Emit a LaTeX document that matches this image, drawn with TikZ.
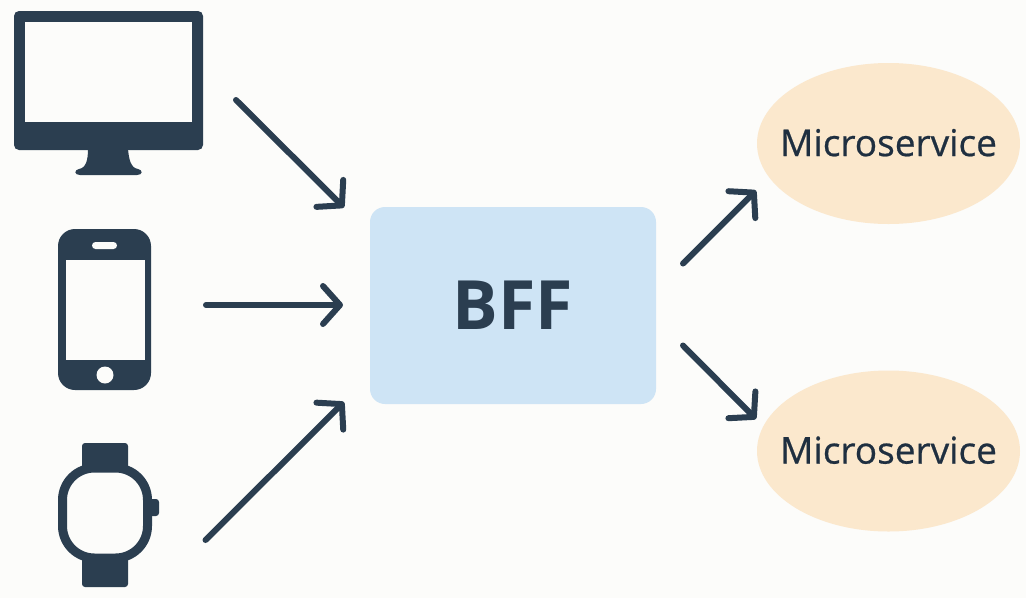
\documentclass[tikz,border=0pt]{standalone}
\usepackage{fontspec}
\setmainfont{Open Sans}
\newfontfamily\servicefont[FakeBold=0.6]{Open Sans}
\usetikzlibrary{arrows.meta, shapes.geometric}

\definecolor{paper}{HTML}{FCFCFA}
\definecolor{navy}{HTML}{2B3E50}
\definecolor{inkdark}{HTML}{1F2F40}
\definecolor{bffblue}{HTML}{CEE4F5}
\definecolor{msorange}{HTML}{FBE8CD}

\tikzset{
  iconpart/.style={rectangle, fill=navy, draw=none, inner sep=0pt, outer sep=0pt},
  iconhole/.style={rectangle, fill=paper, draw=none, inner sep=0pt, outer sep=0pt},
  flow/.style={navy, line width=6pt, line cap=round, line join=round,
    -{Straight Barb[length=17pt, width=38pt, line width=6pt, round]}},
  service/.style={ellipse, fill=msorange, inner sep=0pt, outer sep=0pt,
    minimum width=263pt, minimum height=161pt, text=inkdark,
    font=\servicefont\fontsize{37}{37}\selectfont}
}

\begin{document}
\begin{tikzpicture}[x=1pt, y=-1pt]

  % Canvas
  \fill[paper] (0,0) rectangle (1026,598);
  \useasboundingbox (0,0) rectangle (1026,598);

  % === Desktop monitor
  \fill[navy] (88,149) .. controls (88,160) and (86,168) .. (79,169)
    .. controls (74,170) and (74,175) .. (80,175) -- (137,175)
    .. controls (143,175) and (143,170) .. (138,169)
    .. controls (131,168) and (129,160) .. (128,149) -- cycle;
  \node[iconpart, rounded corners=5pt, minimum width=189pt, minimum height=139pt] (desktop) at (108.5,80.5) {};
  \node[iconhole, minimum width=167pt, minimum height=100pt] (desktopscreen) at (108.5,72) {};

  % === Phone
  \node[iconpart, rounded corners=17pt, minimum width=93pt, minimum height=161pt] (phone) at (104.5,309.5) {};
  \node[iconhole, minimum width=79pt, minimum height=100pt] (phonescreen) at (105.5,310) {};
  \node[iconhole, rounded corners=3.5pt, minimum width=25pt, minimum height=7pt] (phonespeaker) at (104.5,245.5) {};
  \node[iconhole, circle, minimum size=17pt] (phonebutton) at (105,375) {};

  % === Watch
  \node[iconpart, rounded corners=3pt, minimum width=46pt, minimum height=30pt] (watchtop) at (105,458) {};
  \node[iconpart, rounded corners=3pt, minimum width=46pt, minimum height=30pt] (watchbottom) at (105,572) {};
  \node[iconpart, rounded corners=3pt, minimum width=10pt, minimum height=17pt] (watchcrown) at (154,507.5) {};
  \node[rectangle, fill=paper, draw=navy, line width=9pt, rounded corners=32pt, inner sep=0pt, outer sep=0pt,
    minimum width=85pt, minimum height=90pt] (watch) at (105,513) {};

  % === Centre box and services
  \node[rectangle, fill=bffblue, rounded corners=15pt, inner sep=0pt, outer sep=0pt,
    minimum width=286pt, minimum height=197pt, text=navy,
    font=\fontsize{68}{68}\selectfont\bfseries] (bff) at (513,305.5) {BFF};
  \node[service] (msone) at (888.5,143.5) {\makebox[0pt]{\raisebox{2pt}{Microservice}}};
  \node[service] (mstwo) at (888.5,451) {\makebox[0pt]{\raisebox{2pt}{Microservice}}};

  % Arrows into the box
  \draw[flow] ([shift={(33,19.5)}]desktop.east) -- ([shift={(-26,-98)}]bff.west);
  \draw[flow] ([shift={(55,-4.5)}]phone.east) -- ([shift={(-27,-0.5)}]bff.west);
  \draw[flow] ([shift={(58,27)}]watch.east) -- ([shift={(-26,96.5)}]bff.west);

  % Arrows out of the box
  \draw[flow] ([shift={(27,-42)}]bff.east) -- ([shift={(-1,47)}]msone.west);
  \draw[flow] ([shift={(27,40)}]bff.east) -- ([shift={(-1,-32)}]mstwo.west);

\end{tikzpicture}
\end{document}
